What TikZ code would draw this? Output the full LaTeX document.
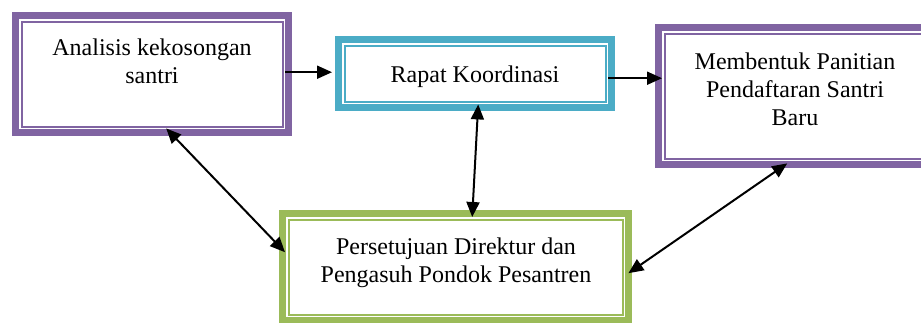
\documentclass[tikz,border=0pt]{standalone}
\usepackage{fontspec}
\setmainfont{Liberation Serif}
\usetikzlibrary{arrows.meta}
\definecolor{purp}{HTML}{8064A2}
\definecolor{teal}{HTML}{4BACC6}
\definecolor{grn}{HTML}{9BBB59}
\tikzset{
  frame/.style={rectangle, inner sep=0pt, anchor=north west,
    path picture={
      \draw[#1, line width=7pt]
        ([shift={(3.5pt,-3.5pt)}]path picture bounding box.north west) rectangle
        ([shift={(-3.5pt,3.5pt)}]path picture bounding box.south east);
      \draw[#1, line width=1.8pt]
        ([shift={(9.5pt,-9.5pt)}]path picture bounding box.north west) rectangle
        ([shift={(-9.5pt,9.5pt)}]path picture bounding box.south east);
    }},
  txt/.style={align=center, inner sep=0pt, font=\fontsize{24}{28}\selectfont},
  arr/.style={line width=2pt, -{Triangle[length=15pt,width=13pt]}},
  darr/.style={line width=2pt, {Triangle[length=15pt,width=13pt]}-{Triangle[length=15pt,width=13pt]}}
}
\begin{document}
\begin{tikzpicture}[x=1pt,y=-1pt]
\useasboundingbox (0,0) rectangle (921,322);
\clip (0,0) rectangle (921,322);
\fill[white] (0,0) rectangle (921,322);
\node[frame=purp, minimum width=280pt, minimum height=124pt] (b1) at (12,12) {};
\node[frame=teal, minimum width=280pt, minimum height=75pt] (b2) at (335,36) {};
\node[frame=purp, minimum width=280pt, minimum height=144pt] (b3) at (655,24) {};
\node[frame=grn, minimum width=353pt, minimum height=114pt] (b4) at (279,210) {};
\node[txt, anchor=base] (t1) at (152,83) {Analisis kekosongan\\santri};
\node[txt, anchor=base] (t2) at (475,82) {Rapat Koordinasi};
\node[txt, anchor=base] (t3) at (795,125) {Membentuk Panitian\\Pendaftaran Santri\\Baru};
\node[txt, anchor=base] (t4) at (456,282) {Persetujuan Direktur dan\\Pengasuh Pondok Pesantren};
\draw[arr] ([shift={(-7pt,2pt)}]b1.east) -- ([shift={(-3pt,1.5pt)}]b2.west);
\draw[arr] ([shift={(-7pt,-4.5pt)}]b2.east) -- ([shift={(7pt,18pt)}]b3.west);
\draw[darr] ([shift={(14pt,8pt)}]b1.south) -- ([shift={(6pt,15pt)}]b4.west);
\draw[darr] ([shift={(3pt,7pt)}]b2.south) -- ([shift={(16.5pt,-7pt)}]b4.north);
\draw[darr] ([shift={(-8pt,5pt)}]b3.south) -- ([shift={(-4pt,-6pt)}]b4.east);
\end{tikzpicture}
\end{document}
